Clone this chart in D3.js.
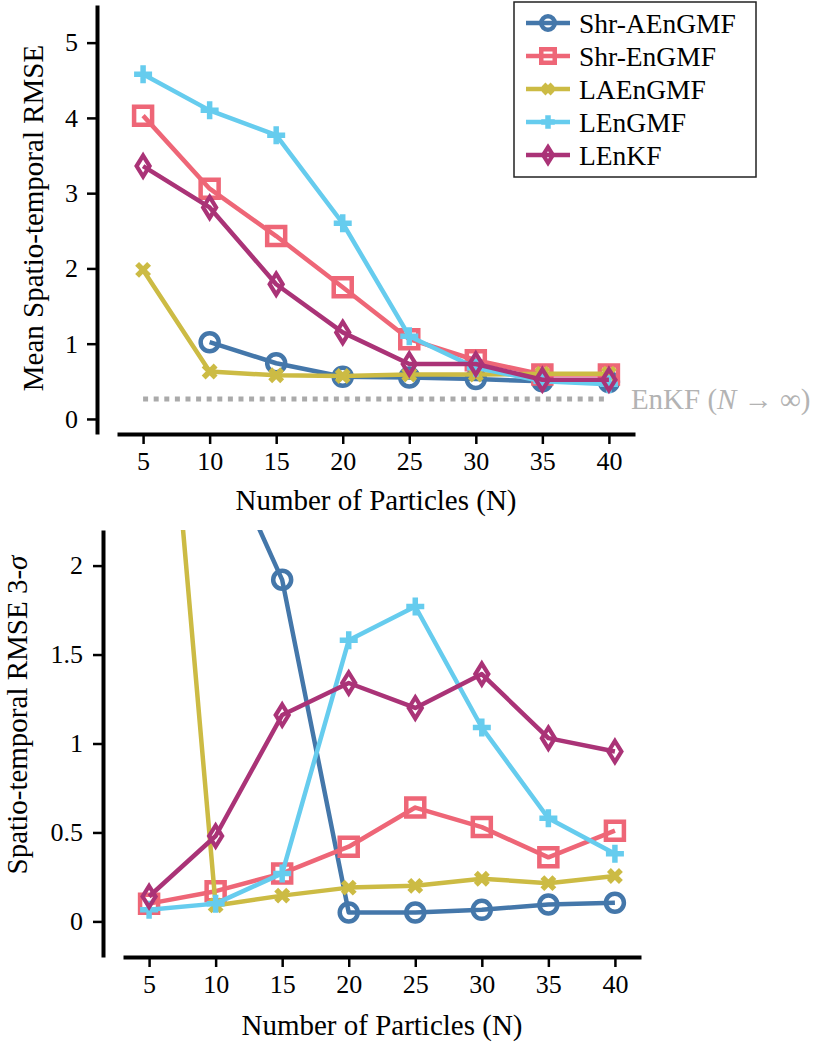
<!DOCTYPE html>
<html>
<head>
<meta charset="utf-8">
<script src="https://cdn.jsdelivr.net/npm/d3@7"></script>
<style>
  body { margin: 0; background: #fff; }
</style>
</head>
<body>
<svg id="chart"></svg>
<script>
const W = 822, H = 1046;
const serif = "'Liberation Serif', 'DejaVu Serif', 'Times New Roman', serif";

// number of particles on the x axis
const particles = [5, 10, 15, 20, 25, 30, 35, 40];
const seriesNames = ['Shr-AEnGMF', 'Shr-EnGMF', 'LAEnGMF', 'LEnGMF', 'LEnKF'];

// top panel: mean spatio-temporal RMSE
const meanShrAEnGMF = [null, 1.02, 0.74, 0.56, 0.55, 0.53, 0.50, 0.49];
const meanShrEnGMF  = [4.03, 3.06, 2.43, 1.75, 1.06, 0.78, 0.59, 0.59];
const meanLAEnGMF   = [1.98, 0.63, 0.58, 0.57, 0.59, 0.59, 0.60, 0.60];
const meanLEnGMF    = [4.58, 4.10, 3.77, 2.60, 1.10, 0.68, 0.50, 0.46];
const meanLEnKF     = [3.36, 2.81, 1.79, 1.15, 0.73, 0.73, 0.52, 0.52];
const enkfLimit = 0.265;

// bottom panel: spatio-temporal RMSE 3-sigma
const sigShrAEnGMF = [null, 2.75, 1.92, 0.05, 0.05, 0.065, 0.095, 0.105];
const sigShrEnGMF  = [0.10, 0.17, 0.27, 0.42, 0.64, 0.53, 0.36, 0.51];
const sigLAEnGMF   = [4.4, 0.09, 0.145, 0.19, 0.20, 0.24, 0.215, 0.255];
const sigLEnGMF    = [0.065, 0.10, 0.27, 1.58, 1.77, 1.09, 0.58, 0.38];
const sigLEnKF     = [0.14, 0.48, 1.16, 1.34, 1.20, 1.39, 1.03, 0.955];

const topTicks = [0, 1, 2, 3, 4, 5];
const bottomTicks = [0, 0.5, 1, 1.5, 2];

const colors = ['#4477AA', '#EE6677', '#CCBB44', '#66CCEE', '#AA3377'];
const shapes = ['circle', 'square', 'x', 'plus', 'diamond'];

const svg = d3.select('#chart')
    .attr('width', W).attr('height', H)
    .attr('font-family', serif);

// marker outlines, s = scale
const markerPath = (shape, s) => {
    const p = d3.path();
    if (shape === 'circle') {
        const r = 9 * s;
        p.moveTo(r, 0); p.arc(0, 0, r, 0, 2 * Math.PI);
    } else if (shape === 'square') {
        const a = 9 * s;
        p.rect(-a, -a, 2 * a, 2 * a);
    } else if (shape === 'diamond') {
        const w = 6.5 * s, h = 10.5 * s;
        p.moveTo(0, -h); p.lineTo(w, 0); p.lineTo(0, h); p.lineTo(-w, 0); p.closePath();
    } else if (shape === 'plus') {
        const a = 9 * s;
        p.moveTo(-a, 0); p.lineTo(a, 0); p.moveTo(0, -a); p.lineTo(0, a);
    } else {
        const a = 6 * s;
        p.moveTo(-a, -a); p.lineTo(a, a); p.moveTo(a, -a); p.lineTo(-a, a);
    }
    return p.toString();
};
const markerWidth = {circle: 4.5, square: 4.5, diamond: 4.2, plus: 5.5, x: 5.5};

const drawPanel = (cfg) => {
    const x = d3.scaleLinear().domain([3.04, 41.96]).range([cfg.left, cfg.right]);
    const y = d3.scaleLinear().domain(cfg.yDomain).range([cfg.bottom, cfg.top]);
    const g = svg.append('g');

    const clipId = 'clip' + cfg.id;
    g.append('clipPath').attr('id', clipId)
        .append('rect')
        .attr('x', cfg.left).attr('y', cfg.top)
        .attr('width', cfg.right - cfg.left).attr('height', cfg.bottom - cfg.top);

    const xAxis = g.append('g')
        .attr('transform', `translate(0,${cfg.bottom})`)
        .call(d3.axisBottom(x).tickValues(particles).tickSize(10).tickSizeOuter(0).tickPadding(8));
    const yAxis = g.append('g')
        .attr('transform', `translate(${cfg.left - 20},0)`)
        .call(d3.axisLeft(y).tickValues(cfg.ticks).tickSize(10).tickSizeOuter(0).tickPadding(cfg.yPad)
            .tickFormat(d => String(d)));
    [xAxis, yAxis].forEach(a => {
        a.attr('font-family', serif).attr('font-size', 26);
        a.select('.domain').attr('stroke', '#000').attr('stroke-width', 4);
        a.selectAll('.tick line').attr('stroke', '#000').attr('stroke-width', 2.5);
        a.selectAll('.tick text').attr('fill', '#000');
    });

    g.append('text')
        .attr('x', (cfg.left + cfg.right) / 2)
        .attr('y', cfg.xLabelY)
        .attr('text-anchor', 'middle')
        .attr('font-size', 29)
        .text('Number of Particles (N)');

    const yl = g.append('text')
        .attr('transform', `translate(${cfg.yLabelX},${cfg.yLabelY}) rotate(-90)`)
        .attr('text-anchor', 'middle')
        .attr('font-size', 29);
    cfg.yLabel(yl);

    const plot = g.append('g').attr('clip-path', `url(#${clipId})`);

    if (cfg.enkf != null) {
        plot.append('path')
            .datum([particles[0], particles[particles.length - 1]])
            .attr('d', d3.line().x(d => x(d)).y(() => y(cfg.enkf)))
            .attr('stroke', '#aaaaaa')
            .attr('stroke-width', 5)
            .attr('stroke-dasharray', '5,5.6')
            .attr('fill', 'none');
        const t = g.append('text')
            .attr('x', x(particles[particles.length - 1]) + 22)
            .attr('y', y(cfg.enkf))
            .attr('dy', '0.35em')
            .attr('font-size', 29)
            .attr('fill', '#b3b3b3');
        t.append('tspan').text('EnKF (');
        t.append('tspan').attr('font-style', 'italic').text('N');
        t.append('tspan').text(' \u2192 \u221E)');
    }

    const line = d3.line()
        .defined(d => d[1] != null)
        .x(d => x(d[0]))
        .y(d => y(d[1]));

    cfg.series.forEach((vals, i) => {
        const pts = particles.map((n, j) => [n, vals[j]]);
        plot.append('path')
            .datum(pts)
            .attr('d', line)
            .attr('fill', 'none')
            .attr('stroke', colors[i])
            .attr('stroke-width', 4.5)
            .attr('stroke-linejoin', 'round');
        plot.selectAll(null)
            .data(pts.filter(d => d[1] != null))
            .join('path')
            .attr('transform', d => `translate(${x(d[0])},${y(d[1])})`)
            .attr('d', markerPath(shapes[i], 1))
            .attr('fill', 'none')
            .attr('stroke', colors[i])
            .attr('stroke-width', markerWidth[shapes[i]]);
    });
    return g;
};

const topPanel = drawPanel({
    id: 'top', left: 117, right: 635, top: 5, bottom: 434,
    yDomain: [-0.2, 5.5], ticks: topTicks, yPad: 9,
    xLabelY: 510, yLabelX: 43, yLabelY: 218,
    yLabel: t => t.text('Mean Spatio-temporal RMSE'),
    enkf: enkfLimit,
    series: [meanShrAEnGMF, meanShrEnGMF, meanLAEnGMF, meanLEnGMF, meanLEnKF]
});

drawPanel({
    id: 'bottom', left: 123, right: 641, top: 530, bottom: 957,
    yDomain: [-0.2, 2.2], ticks: bottomTicks, yPad: 10,
    xLabelY: 1035, yLabelX: 27, yLabelY: 715,
    yLabel: t => {
        t.append('tspan').text('Spatio-temporal RMSE 3-');
        t.append('tspan').attr('font-style', 'italic').text('\u03C3');
    },
    enkf: null,
    series: [sigShrAEnGMF, sigShrEnGMF, sigLAEnGMF, sigLEnGMF, sigLEnKF]
});

// legend
const legend = topPanel.append('g');
legend.append('rect')
    .attr('x', 514).attr('y', 2).attr('width', 242).attr('height', 175)
    .attr('fill', '#fff').attr('stroke', '#222').attr('stroke-width', 1.5);
seriesNames.forEach((name, i) => {
    const yy = 23 + i * 33;
    const row = legend.append('g');
    row.append('line')
        .attr('x1', 526).attr('x2', 570).attr('y1', yy).attr('y2', yy)
        .attr('stroke', colors[i]).attr('stroke-width', 4.5);
    row.append('path')
        .attr('transform', `translate(548,${yy})`)
        .attr('d', markerPath(shapes[i], 0.75))
        .attr('fill', 'none')
        .attr('stroke', colors[i])
        .attr('stroke-width', markerWidth[shapes[i]]);
    row.append('text')
        .attr('x', 579).attr('y', yy).attr('dy', '0.35em')
        .attr('font-size', 27.5)
        .text(name);
});
</script>
</body>
</html>
